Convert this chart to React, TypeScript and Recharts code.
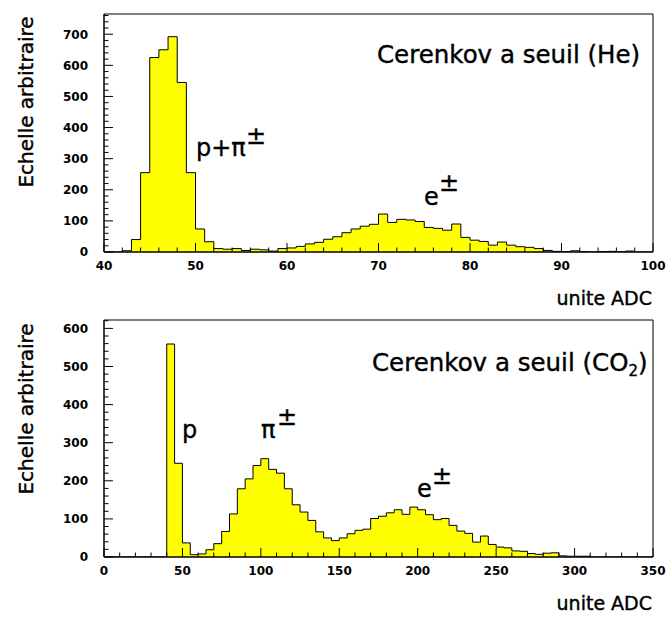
import React from 'react';
import { AreaChart, Area, XAxis, YAxis, ReferenceArea } from 'recharts';

// Top panel: He threshold Cerenkov, 1-unit bins from 40 to 100
const heBinEdges = [
  40, 41, 42, 43, 44, 45, 46, 47, 48, 49, 50, 51, 52, 53, 54, 55, 56, 57, 58, 59,
  60, 61, 62, 63, 64, 65, 66, 67, 68, 69, 70, 71, 72, 73, 74, 75, 76, 77, 78, 79,
  80, 81, 82, 83, 84, 85, 86, 87, 88, 89, 90, 91, 92, 93, 94, 95, 96, 97, 98, 99, 100,
];
const heCounts = [
  0, 0, 4, 40, 255, 625, 650, 692, 545, 255, 74, 33, 11, 9, 11, 5, 9, 7, 3, 11,
  13, 18, 26, 31, 41, 49, 62, 74, 83, 89, 122, 95, 105, 103, 98, 79, 76, 70, 90, 47,
  38, 34, 22, 32, 22, 17, 15, 11, 5, 2, 1, 4, 1, 0, 1, 2, 1, 3, 0, 0,
];
const heXLabels = [40, 50, 60, 70, 80, 90, 100];
const heYLabels = [0, 100, 200, 300, 400, 500, 600, 700];

// Bottom panel: CO2 threshold Cerenkov, 5-unit bins from 0 to 350
const co2BinEdges = [
  0, 5, 10, 15, 20, 25, 30, 35, 40, 45, 50, 55, 60, 65, 70, 75, 80, 85, 90, 95,
  100, 105, 110, 115, 120, 125, 130, 135, 140, 145, 150, 155, 160, 165, 170, 175, 180, 185, 190, 195,
  200, 205, 210, 215, 220, 225, 230, 235, 240, 245, 250, 255, 260, 265, 270, 275, 280, 285, 290, 295,
  300, 305, 310, 315, 320, 325, 330, 335, 340, 345, 350,
];
const co2Counts = [
  0, 0, 0, 0, 0, 0, 0, 0, 559, 246, 37, 6, 8, 19, 35, 67, 113, 179, 205, 240,
  258, 230, 220, 179, 137, 118, 96, 66, 50, 43, 50, 61, 70, 73, 101, 107, 116, 124, 112, 131,
  124, 111, 98, 101, 83, 68, 62, 39, 55, 33, 26, 24, 16, 15, 9, 7, 10, 11, 3, 2,
  2, 2, 0, 0, 0, 0, 0, 0, 0, 0,
];
const co2XLabels = [0, 50, 100, 150, 200, 250, 300, 350];
const co2YLabels = [0, 100, 200, 300, 400, 500, 600];

const FONT = '"DejaVu Sans", sans-serif';

const toRows = (edges: number[], counts: number[]) =>
  edges.map((x, i) => ({ x, n: counts[Math.min(i, counts.length - 1)] }));

const minorTicks = (from: number, to: number, step: number) => {
  const out: number[] = [];
  for (let v = from; v <= to + 1e-9; v += step) out.push(v);
  return out;
};

const XTick = (props: any) => {
  const { x, y, payload, labels } = props;
  const major = labels.includes(payload.value);
  return (
    <g>
      <line x1={x} x2={x} y1={y} y2={y - (major ? 9 : 4.5)} stroke="#000" strokeWidth={1} />
      {major && (
        <text x={x} y={y + 18} textAnchor="middle" fontFamily={FONT} fontWeight="bold" fontSize={12} fill="#000">
          {payload.value}
        </text>
      )}
    </g>
  );
};

const YTick = (props: any) => {
  const { x, y, payload, labels } = props;
  const major = labels.includes(payload.value);
  return (
    <g>
      <line x1={x} x2={x + (major ? 9 : 4.5)} y1={y} y2={y} stroke="#000" strokeWidth={1} />
      {major && (
        <text x={x - 16} y={y + 4.4} textAnchor="end" fontFamily={FONT} fontWeight="bold" fontSize={12} fill="#000">
          {payload.value}
        </text>
      )}
    </g>
  );
};

interface PanelProps {
  rows: { x: number; n: number }[];
  xDomain: [number, number];
  yDomain: [number, number];
  xTicks: number[];
  yTicks: number[];
  xLabels: number[];
  yLabels: number[];
  height: number;
  bottom: number;
}

function Panel({ rows, xDomain, yDomain, xTicks, yTicks, xLabels, yLabels, height, bottom }: PanelProps) {
  return (
    <AreaChart width={670} height={height} data={rows} margin={{ top: 14, right: 17, bottom: 0, left: 0 }}>
      <Area type="stepAfter" dataKey="n" stroke="#000" strokeWidth={1} fill="#ffff00" fillOpacity={1}
        isAnimationActive={false} dot={false} activeDot={false} />
      <ReferenceArea x1={xDomain[0]} x2={xDomain[1]} y1={yDomain[0]} y2={yDomain[1]}
        fill="none" fillOpacity={0} stroke="#000" strokeWidth={1} ifOverflow="visible" />
      <XAxis dataKey="x" type="number" domain={xDomain} ticks={xTicks} interval={0} allowDataOverflow
        height={bottom} tickSize={0} tickMargin={0} axisLine={{ stroke: '#000' }}
        tick={(p: any) => <XTick {...p} labels={xLabels} />} />
      <YAxis type="number" domain={yDomain} ticks={yTicks} interval={0} allowDataOverflow
        width={104} tickSize={0} tickMargin={0} axisLine={{ stroke: '#000' }}
        tick={(p: any) => <YTick {...p} labels={yLabels} />} />
    </AreaChart>
  );
}

export default function App() {
  const textStyle = { fontFamily: FONT, fill: '#000', stroke: '#000', strokeWidth: 0.4 };
  return (
    <div style={{ position: 'absolute', left: 0, top: 0, width: 670, height: 617, background: '#fff' }}>
      <div style={{ position: 'absolute', left: 0, top: 0 }}>
        <Panel rows={toRows(heBinEdges, heCounts)} xDomain={[40, 100]} yDomain={[0, 765]}
          xTicks={minorTicks(40, 100, 2)} yTicks={minorTicks(0, 760, 20)}
          xLabels={heXLabels} yLabels={heYLabels} height={300} bottom={48} />
      </div>
      <div style={{ position: 'absolute', left: 0, top: 306 }}>
        <Panel rows={toRows(co2BinEdges, co2Counts)} xDomain={[0, 350]} yDomain={[0, 622]}
          xTicks={minorTicks(0, 350, 10)} yTicks={minorTicks(0, 620, 20)}
          xLabels={co2XLabels} yLabels={co2YLabels} height={311} bottom={60} />
      </div>
      <svg width={670} height={617} style={{ position: 'absolute', left: 0, top: 0, pointerEvents: 'none' }}>
        <g style={textStyle} fontSize={20}>
          <text transform="translate(33,102) rotate(-90)" textAnchor="middle">Echelle arbitraire</text>
          <text transform="translate(33,409) rotate(-90)" textAnchor="middle">Echelle arbitraire</text>
        </g>
        <g style={textStyle} fontSize={19}>
          <text x={652} y={305} textAnchor="end">unite ADC</text>
          <text x={652} y={610} textAnchor="end">unite ADC</text>
        </g>
        <g style={textStyle} fontSize={24.5}>
          <text x={377} y={63}>Cerenkov a seuil (He)</text>
          <text x={372} y={371}>Cerenkov a seuil (CO<tspan fontSize={15} dy={5}>2</tspan><tspan dy={-5}>)</tspan></text>
        </g>
        <g style={textStyle} fontSize={24}>
          <text x={196} y={156}>p+π</text>
          <text x={246} y={144}>±</text>
          <text x={424} y={205}>e</text>
          <text x={439} y={191}>±</text>
          <text x={182} y={438}>p</text>
          <text x={261} y={438}>π</text>
          <text x={277} y={425}>±</text>
          <text x={417} y={497}>e</text>
          <text x={432} y={484}>±</text>
        </g>
      </svg>
    </div>
  );
}
